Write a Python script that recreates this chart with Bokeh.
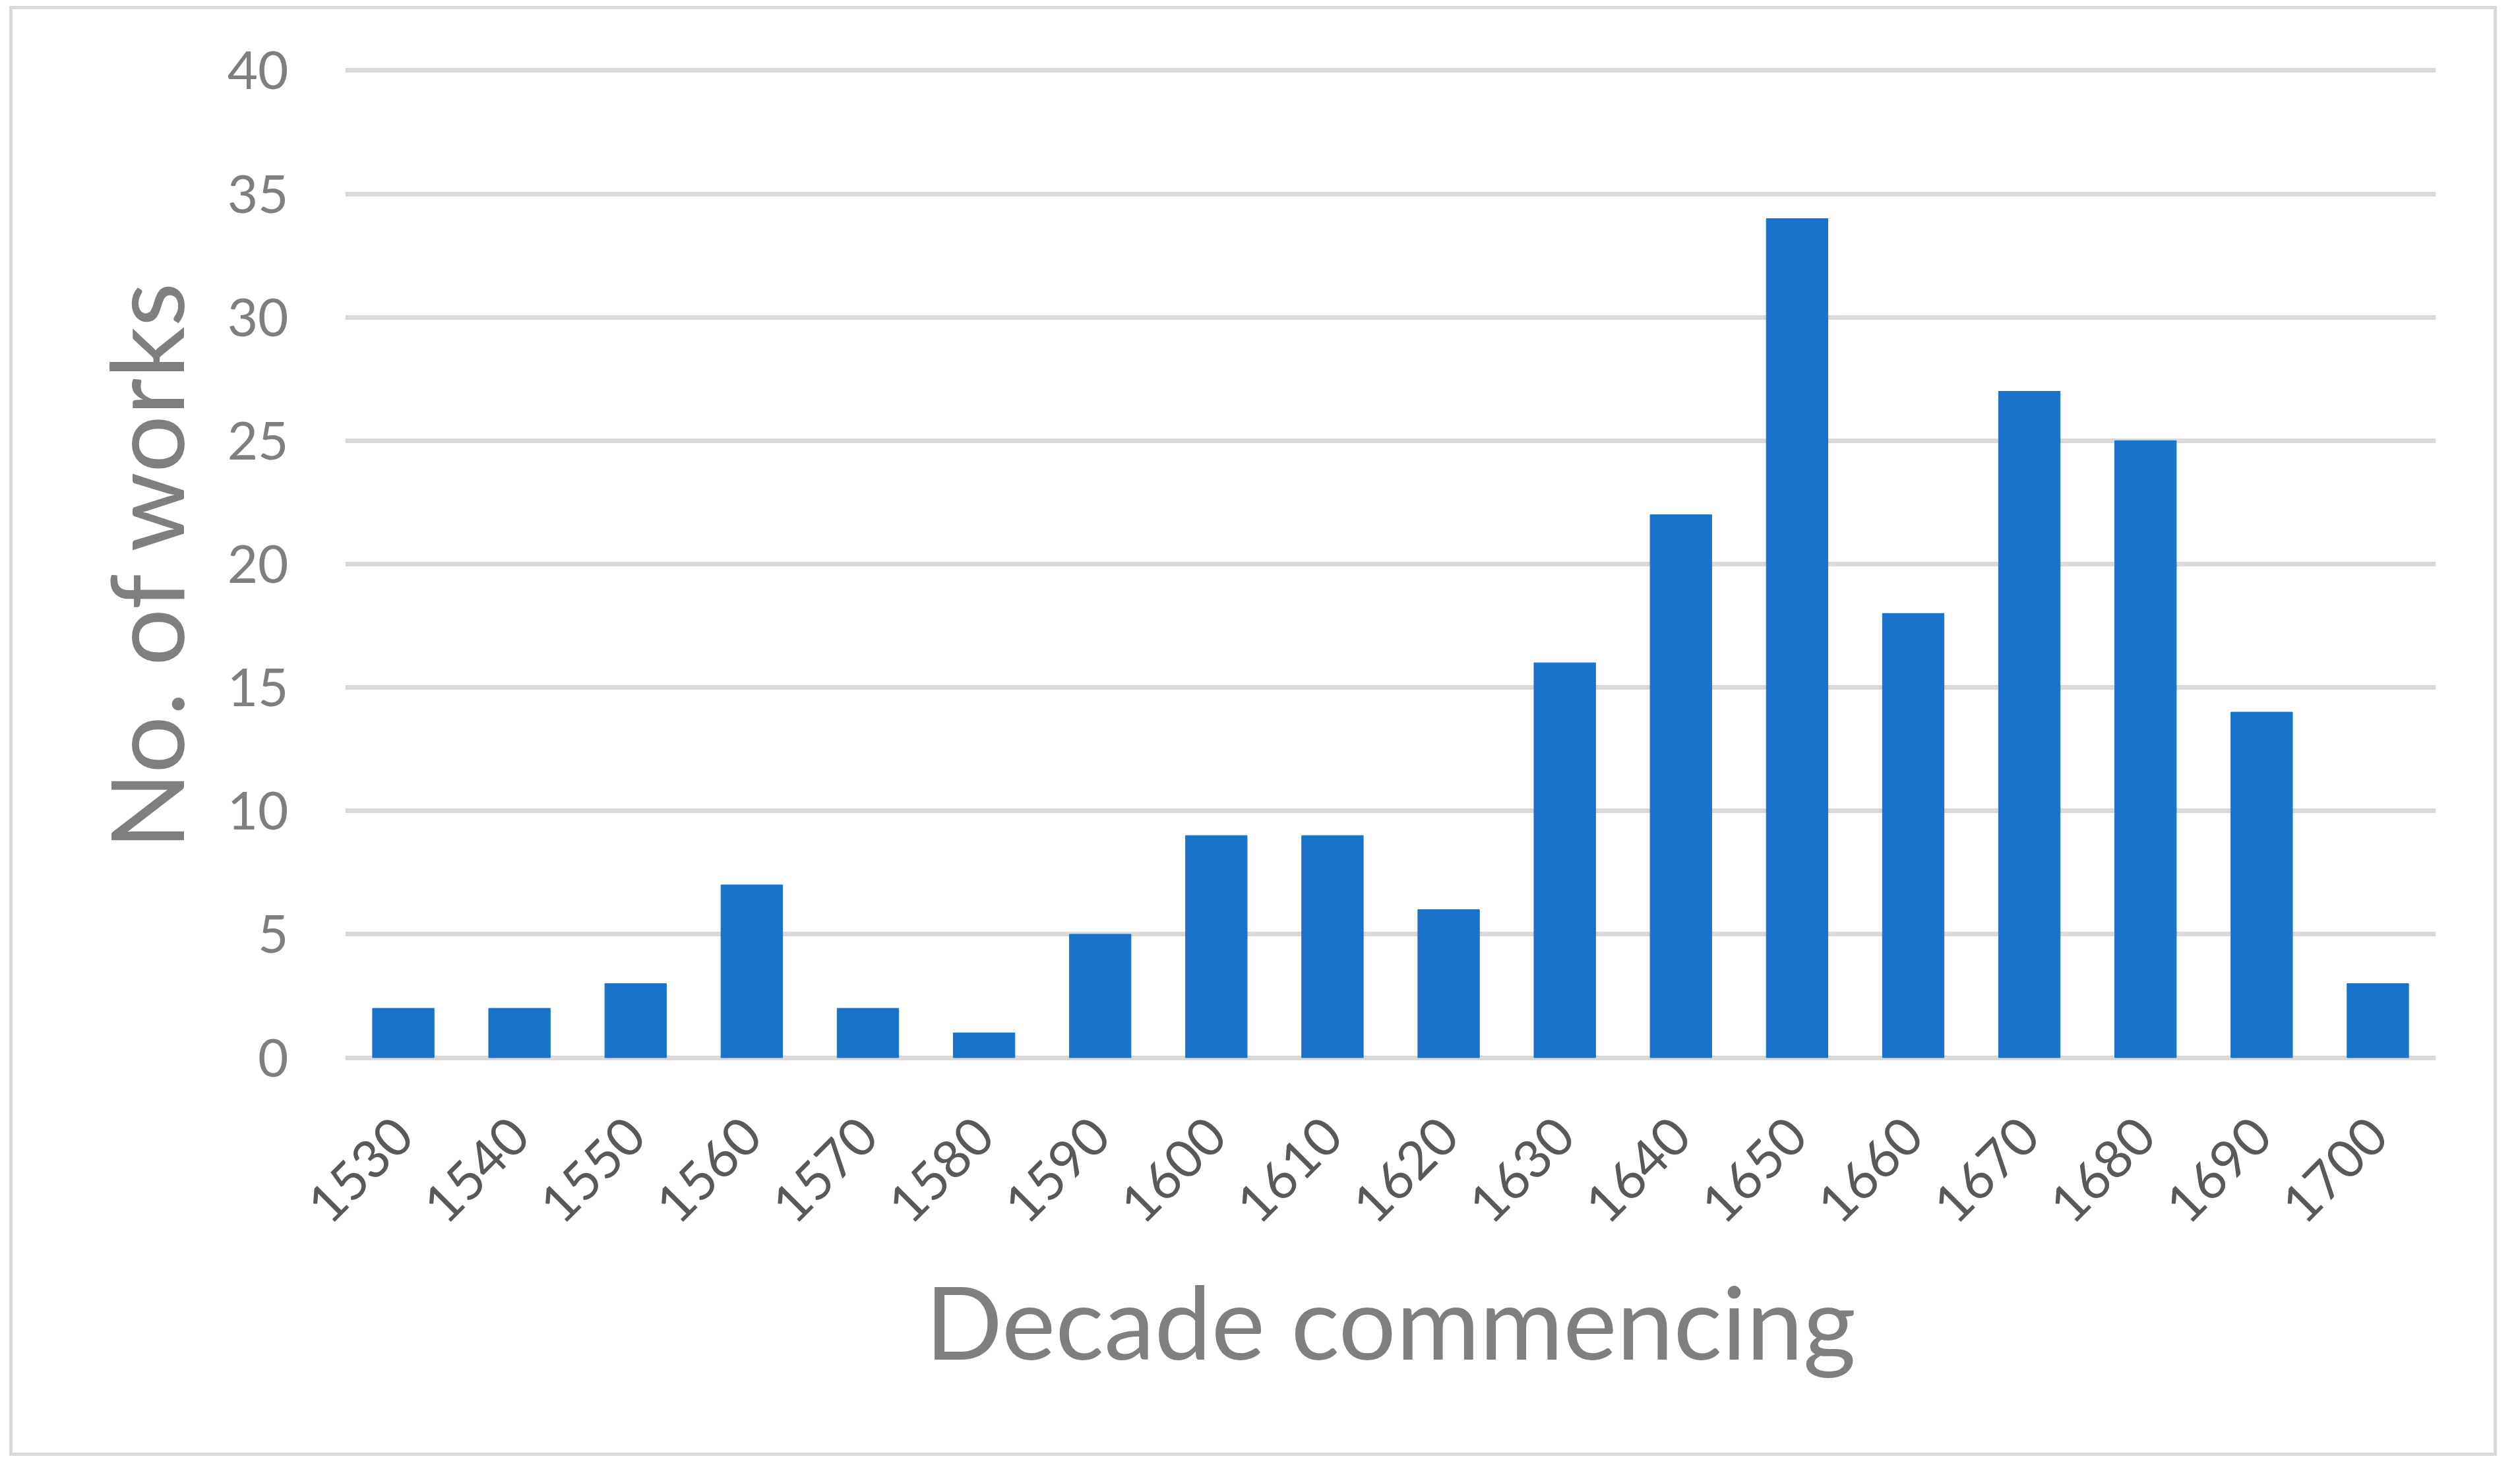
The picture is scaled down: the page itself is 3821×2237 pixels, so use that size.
import math
from bokeh.plotting import figure
from bokeh.models import Range1d, FixedTicker
from bokeh.embed import file_html
from bokeh.resources import INLINE

# Data
decades = ["1530", "1540", "1550", "1560", "1570", "1580", "1590", "1600", "1610",
           "1620", "1630", "1640", "1650", "1660", "1670", "1680", "1690", "1700"]
works = [2, 2, 3, 7, 2, 1, 5, 9, 9, 6, 16, 22, 34, 18, 27, 25, 14, 3]
y_ticks = [0, 5, 10, 15, 20, 25, 30, 35, 40]

FONT = "Lato"

p = figure(
    x_range=decades,
    y_range=Range1d(-0.12, 40.12),
    width=3762, height=2189,
    output_backend="svg", toolbar_location=None,
    min_border_left=504, min_border_right=88,
    min_border_top=88, min_border_bottom=595,
)
p.margin = (14, 0, 0, 19)
p.styles = {"outline": "5px solid #d9d9d9", "outline-offset": "0px"}

p.vbar(x=decades, top=works, bottom=0, width=0.53, color="#1873c9")

p.outline_line_color = None
p.background_fill_color = "white"
p.border_fill_color = "white"

p.xgrid.grid_line_color = None
p.ygrid.ticker = FixedTicker(ticks=y_ticks)
p.ygrid.grid_line_color = "#d9d9d9"
p.ygrid.grid_line_width = 7

p.yaxis.ticker = FixedTicker(ticks=y_ticks)
for ax in (p.xaxis[0], p.yaxis[0]):
    ax.axis_line_color = None
    ax.major_tick_line_color = None
    ax.minor_tick_line_color = None
    ax.major_tick_out = 0
    ax.major_tick_in = 0
    ax.major_label_text_font = FONT
    ax.major_label_text_font_size = "80px"
    ax.axis_label_text_font = FONT
    ax.axis_label_text_font_size = "154px"
    ax.axis_label_text_font_style = "normal"
    ax.axis_label_text_color = "#7f7f7f"

p.yaxis.axis_label = "No. of works"
p.yaxis.major_label_text_color = "#7f7f7f"
p.yaxis.major_label_standoff = 86
p.yaxis.axis_label_standoff = 30

p.xaxis.axis_label = "Decade commencing"
p.xaxis.major_label_text_color = "#595959"
p.xaxis.major_label_orientation = math.pi / 4
p.xaxis.major_label_standoff = 100
p.xaxis.axis_label_standoff = 27

open("out.html", "w").write(file_html(p, INLINE))
